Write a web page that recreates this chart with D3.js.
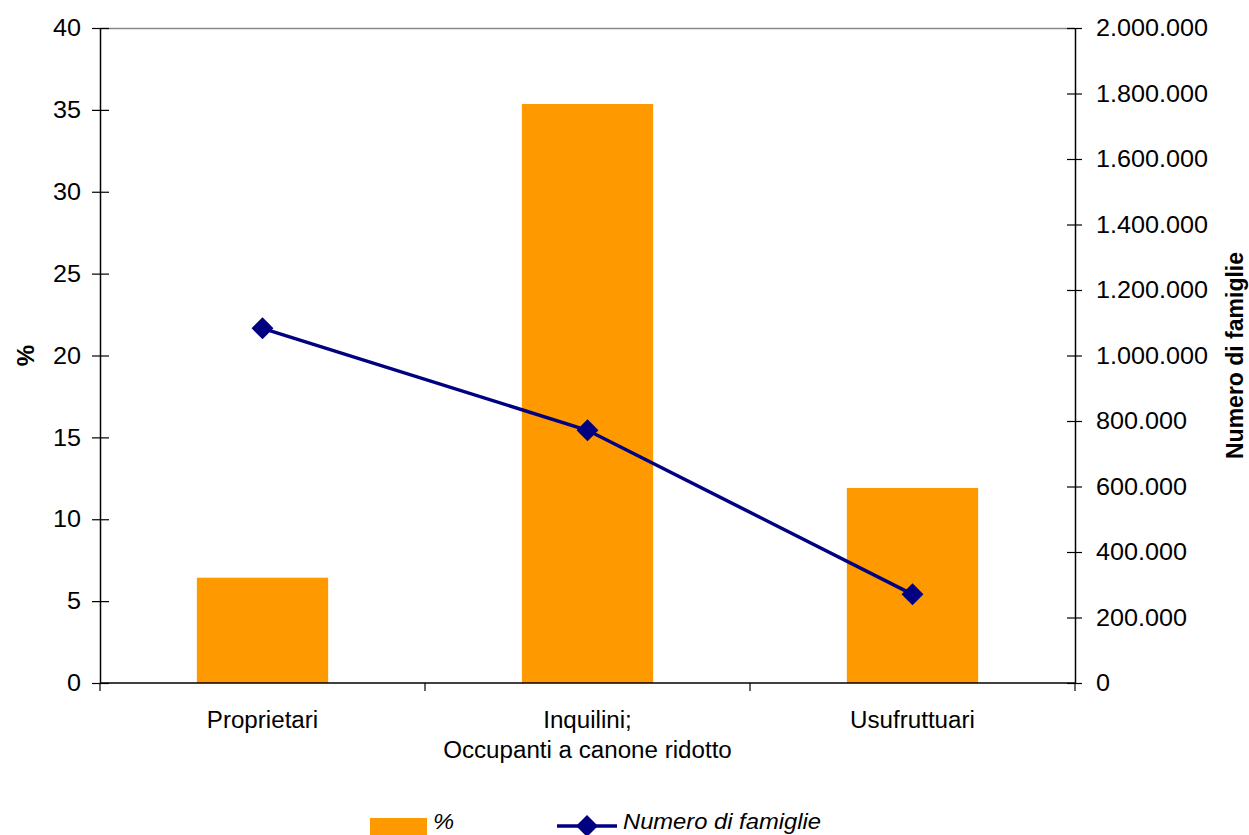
<!DOCTYPE html>
<html>
<head>
<meta charset="utf-8">
<script src="https://cdn.jsdelivr.net/npm/d3@7"></script>
<style>
  html, body { margin: 0; padding: 0; background: #fff; }
  svg { display: block; font-family: "Liberation Sans", Arial, sans-serif; }
  .sx { transform-box: fill-box; transform: scaleX(1.05); }
  .sxr { transform-origin: right center; }
  .sxl { transform-origin: left center; }
  .sxc { transform-origin: center center; }
  .lgs { transform-box: fill-box; transform: scaleX(1.08); transform-origin: left center; }
</style>
</head>
<body>
<script>
// ---- data ----
const categories = ["Proprietari", "Inquilini;\nOccupanti a canone ridotto", "Usufruttuari"];
const percentValues = [6.43, 35.36, 11.91];
const famiglieValues = [1083000, 771600, 270800];
const leftTicks = [0, 5, 10, 15, 20, 25, 30, 35, 40];
const rightTicks = [0, 200000, 400000, 600000, 800000, 1000000, 1200000, 1400000, 1600000, 1800000, 2000000];
const seriesNames = ["%", "Numero di famiglie"];
const leftTitle = "%";
const rightTitle = "Numero di famiglie";

const W = 1249, H = 835;
const plot = { left: 100, right: 1075, top: 28, bottom: 683 };
const barColor = "#FF9900", lineColor = "#000080";

const svg = d3.select("body").append("svg").attr("width", W).attr("height", H);

const x = d3.scaleBand().domain(categories).range([plot.left, plot.right]).padding(0);
const barW = x.bandwidth() * 0.404;
const yL = d3.scaleLinear().domain([0, 40]).range([plot.bottom, plot.top]);
const yR = d3.scaleLinear().domain([0, 2000000]).range([plot.bottom, plot.top]);
const it = d3.formatLocale({ decimal: ",", thousands: ".", grouping: [3], currency: ["", "€"] });
const fmt = it.format(",");

// top border
svg.append("line")
  .attr("x1", plot.left).attr("x2", plot.right)
  .attr("y1", plot.top + 0.5).attr("y2", plot.top + 0.5)
  .attr("stroke", "#888").attr("stroke-width", 1.5);

// bars
svg.append("g").selectAll("rect").data(categories).join("rect")
  .attr("x", (d) => x(d) + (x.bandwidth() - barW) / 2)
  .attr("width", barW)
  .attr("y", (d, i) => yL(percentValues[i]))
  .attr("height", (d, i) => yL(0) - yL(percentValues[i]))
  .attr("fill", barColor);

// left axis
const gL = svg.append("g").attr("transform", `translate(${plot.left},0)`)
  .call(d3.axisLeft(yL).tickValues(leftTicks).tickSize(0).tickPadding(19));
gL.select(".domain").attr("stroke", "#000").attr("stroke-width", 1.5);
gL.selectAll(".tick line").attr("x1", -8).attr("x2", 9).attr("stroke", "#000").attr("stroke-width", 1.2);
gL.selectAll(".tick text").attr("font-size", 24).attr("fill", "#000")
  .attr("font-family", "Liberation Sans, Arial, sans-serif").attr("class", "sx sxr");

// right axis
const gR = svg.append("g").attr("transform", `translate(${plot.right},0)`)
  .call(d3.axisRight(yR).tickValues(rightTicks).tickFormat(fmt).tickSize(0).tickPadding(21));
gR.select(".domain").attr("stroke", "#000").attr("stroke-width", 1.5);
gR.selectAll(".tick line").attr("x1", -8).attr("x2", 7).attr("stroke", "#000").attr("stroke-width", 1.2);
gR.selectAll(".tick text").attr("font-size", 24).attr("fill", "#000")
  .attr("font-family", "Liberation Sans, Arial, sans-serif").attr("class", "sx sxl");

// bottom axis
const gB = svg.append("g").attr("transform", `translate(0,${plot.bottom})`);
gB.append("line").attr("x1", plot.left).attr("x2", plot.right)
  .attr("y1", 0).attr("y2", 0).attr("stroke", "#000").attr("stroke-width", 1.5);
const bTicks = categories.map((c) => x(c)).concat([x(categories[categories.length - 1]) + x.bandwidth()]);
gB.selectAll("line.bt").data(bTicks).join("line").attr("class", "bt")
  .attr("x1", (d) => d).attr("x2", (d) => d).attr("y1", 0).attr("y2", 8)
  .attr("stroke", "#000").attr("stroke-width", 1.2);
categories.forEach((c) => {
  const lines = c.split("\n");
  lines.forEach((ln, j) => {
    gB.append("text")
      .attr("x", x(c) + x.bandwidth() / 2)
      .attr("y", 45 + j * 30)
      .attr("text-anchor", "middle")
      .attr("font-size", 23)
      .attr("class", "sx sxc")
      .text(ln);
  });
});

// line series
const pts = categories.map((c, i) => [x(c) + x.bandwidth() / 2, yR(famiglieValues[i])]);
svg.append("path").datum(pts)
  .attr("d", d3.line())
  .attr("fill", "none").attr("stroke", lineColor).attr("stroke-width", 3.5);
const diamond = d3.symbol().type(d3.symbolSquare).size(240);
svg.append("g").selectAll("path").data(pts).join("path")
  .attr("d", diamond)
  .attr("transform", (d) => `translate(${d[0]},${d[1]}) rotate(45)`)
  .attr("fill", lineColor);

// axis titles
svg.append("text")
  .attr("transform", `translate(34,${(plot.top + plot.bottom) / 2}) rotate(-90)`)
  .attr("text-anchor", "middle").attr("font-weight", "bold").attr("font-size", 24)
  .text(leftTitle);
svg.append("text")
  .attr("transform", `translate(1243,${(plot.top + plot.bottom) / 2}) rotate(-90)`)
  .attr("text-anchor", "middle").attr("font-weight", "bold").attr("font-size", 23)
  .text(rightTitle);

// legend
const lg = svg.append("g");
lg.append("rect").attr("x", 370).attr("y", 818).attr("width", 57).attr("height", 20).attr("fill", barColor);
lg.append("text").attr("x", 433).attr("y", 829).attr("font-size", 22).attr("font-style", "italic")
  .attr("class", "lgs").text(seriesNames[0]);
lg.append("line").attr("x1", 557).attr("x2", 617).attr("y1", 826).attr("y2", 826)
  .attr("stroke", lineColor).attr("stroke-width", 3.5);
lg.append("path").attr("d", diamond).attr("transform", "translate(587,826) rotate(45)").attr("fill", lineColor);
lg.append("text").attr("x", 623).attr("y", 829).attr("font-size", 22).attr("font-style", "italic")
  .attr("class", "lgs").text(seriesNames[1]);
</script>
</body>
</html>
